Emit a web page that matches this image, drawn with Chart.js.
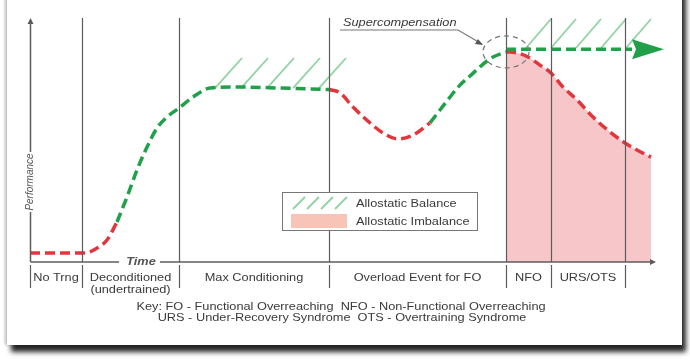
<!DOCTYPE html>
<html>
<head>
<meta charset="utf-8">
<script src="https://cdn.jsdelivr.net/npm/chart.js@4.4.1/dist/chart.umd.min.js"></script>
<style>
  html, body { margin: 0; padding: 0; background: #fff; overflow: hidden; }
  .card {
    position: absolute; left: 7px; top: -12px; width: 675px; height: 357px;
    background: #fff;
    box-shadow: 4px 7px 5px rgba(0,0,0,0.85), -2px 0 3px rgba(0,0,0,0.25);
  }
  #wrap { position: absolute; left: 0; top: 0; width: 690px; height: 362px; }
</style>
</head>
<body>
<div class="card"></div>
<div id="wrap"><canvas id="chart" width="690" height="362"></canvas></div>
<script>
// ── Phase boundaries on the time axis ──
const sectionBounds = [0, 10.4, 29.8, 59.8, 95.2, 104.2, 119];
const sectionLabels = ['No Trng', ['Deconditioned', '(undertrained)'], 'Max Conditioning',
                       'Overload Event for FO', 'NFO', 'URS/OTS'];

// ── Performance curve, split in coloured pieces ──
const detrainX  = [0, 11, 13.4, 15.4, 17.4];
const detrainY  = [3.7, 3.7, 5.7, 9.0, 16.4];
const buildX    = [17.4, 19.4, 21.4, 23.4, 25.4, 27.4, 29.8, 32.6, 36, 42, 50, 56, 59.8];
const buildY    = [16.4, 26.6, 37.7, 47.1, 54.9, 59.4, 63.1, 67.6, 71.3, 71.7, 71.3, 70.9, 70.7];
const overloadX = [59.8, 62, 64.6, 68, 70.6, 73.6, 76.6, 80];
const overloadY = [70.7, 69.3, 63.5, 57, 52.9, 50.4, 52, 57];
const recoverX  = [80, 82, 84, 86, 88, 90.4, 92.6, 95.2];
const recoverY  = [57, 62.3, 67.6, 72.5, 76.2, 80.7, 84, 86.1];
const superX    = [95.2, 120.4];
const superY    = [87.2, 87.2];
const declineX  = [95.2, 97.4, 99.6, 102, 104.2, 106.6, 109.4, 112.6, 116, 119, 121.4, 124.2];
const declineY  = [86.1, 85.7, 84, 80.7, 77.5, 71.7, 66.4, 59.4, 53.3, 48.8, 45.9, 43];

// ── Allostatic balance hatching (start x of each stroke, y band) ──
const hatchLowX  = [37, 42.2, 47.4, 52.6, 57.8];
const hatchLowY  = [71.3, 83.6];
const hatchHighX = [99.2, 104.2, 109.2, 114.2, 119.2];
const hatchHighY = [87.7, 99.6];

const GREEN = '#21a04a';
const RED   = '#e3363c';
const PINK  = '#f7c6c8';
const HATCH = '#8fd3a1';
const GREY  = '#5c5c5c';
const TEXT  = '#3a3a3a';
const FONT  = "'Liberation Sans', Arial, sans-serif";
const WIDEN = 1.16;   // the source lettering is a bit wider than Arial

const pts = (xs, ys) => xs.map((x, i) => ({ x, y: ys[i] }));

function seg(data, color, extra) {
  return Object.assign({
    data, borderColor: color, borderWidth: 3.5, borderDash: [10, 5],
    pointRadius: 0, fill: false, cubicInterpolationMode: 'monotone', clip: false
  }, extra || {});
}

// draw text stretched horizontally around its anchor
function wideText(ctx, str, x, y, align) {
  ctx.save();
  ctx.translate(x, y);
  ctx.scale(WIDEN, 1);
  ctx.textAlign = align || 'center';
  ctx.fillText(str, 0, 0);
  ctx.restore();
}

// ── Everything that is not a dataset: axes, phases, hatching, notes ──
const decor = {
  id: 'decor',
  beforeDatasetsDraw(chart) {
    const { ctx, scales: { x, y } } = chart;
    ctx.save();
    ctx.strokeStyle = HATCH;
    ctx.lineWidth = 1.8;
    const hatch = (starts, band, dx) => starts.forEach(s => {
      ctx.beginPath();
      ctx.moveTo(x.getPixelForValue(s), y.getPixelForValue(band[0]));
      ctx.lineTo(x.getPixelForValue(s + dx), y.getPixelForValue(band[1]));
      ctx.stroke();
    });
    hatch(hatchLowX, hatchLowY, 5.4);
    hatch(hatchHighX, hatchHighY, 5);
    ctx.restore();
  },
  afterDatasetsDraw(chart) {
    const { ctx, chartArea: a, scales: { x, y } } = chart;
    const y0 = y.getPixelForValue(0);
    ctx.save();

    // phase lines
    ctx.strokeStyle = GREY;
    ctx.lineWidth = 1.2;
    sectionBounds.forEach((b, i) => {
      const px = Math.round(x.getPixelForValue(b)) + 0.5;
      if (i > 0) { ctx.beginPath(); ctx.moveTo(px, a.top); ctx.lineTo(px, y0); ctx.stroke(); }
      ctx.beginPath(); ctx.moveTo(px, y0 + 3); ctx.lineTo(px, y0 + 26); ctx.stroke();
    });

    // axes with arrows
    const ax = Math.round(x.getPixelForValue(0)) + 0.5;
    ctx.lineWidth = 1.5;
    ctx.beginPath(); ctx.moveTo(ax, y0); ctx.lineTo(ax, a.top + 4); ctx.stroke();
    ctx.beginPath(); ctx.moveTo(ax, y0); ctx.lineTo(x.getPixelForValue(124.6), y0); ctx.stroke();
    ctx.fillStyle = GREY;
    ctx.beginPath(); ctx.moveTo(ax, a.top); ctx.lineTo(ax - 3, a.top + 6); ctx.lineTo(ax + 3, a.top + 6); ctx.fill();
    const tx = x.getPixelForValue(125.2);
    ctx.beginPath(); ctx.moveTo(tx, y0); ctx.lineTo(tx - 6, y0 - 3); ctx.lineTo(tx - 6, y0 + 3); ctx.fill();

    // axis titles on white
    ctx.font = `italic bold 11px ${FONT}`;
    ctx.textBaseline = 'middle';
    ctx.fillStyle = '#fff';
    ctx.fillRect(119, y0 - 6, 41, 12);
    ctx.fillStyle = '#555';
    wideText(ctx, 'Time', 141, y0);
    ctx.save();
    ctx.translate(ax, 182);
    ctx.rotate(-Math.PI / 2);
    ctx.font = `italic 10px ${FONT}`;
    ctx.fillStyle = '#fff';
    ctx.fillRect(-30, -6, 60, 12);
    ctx.fillStyle = '#555';
    ctx.textAlign = 'center';
    ctx.fillText('Performance', 0, 0);
    ctx.restore();

    // phase labels
    ctx.fillStyle = TEXT;
    ctx.font = `11px ${FONT}`;
    sectionLabels.forEach((lab, i) => {
      const end = i + 1 < sectionBounds.length ? sectionBounds[i + 1] : 124;
      const cx = (x.getPixelForValue(sectionBounds[i]) + x.getPixelForValue(end)) / 2;
      const lines = Array.isArray(lab) ? lab : [lab];
      lines.forEach((t, k) => wideText(ctx, t, cx, y0 + 16 + k * 12));
    });

    // key
    wideText(ctx, 'Key: FO - Functional Overreaching  NFO - Non-Functional Overreaching', 341, 307);
    wideText(ctx, 'URS - Under-Recovery Syndrome  OTS - Overtraining Syndrome', 342, 318);

    // green arrowhead at end of supercompensation line
    const sm = chart.getDatasetMeta(4).data;
    const end = sm[sm.length - 1];
    ctx.fillStyle = GREEN;
    ctx.beginPath();
    ctx.moveTo(end.x + 32, end.y);
    ctx.lineTo(end.x, end.y - 10);
    ctx.lineTo(end.x + 4, end.y);
    ctx.lineTo(end.x, end.y + 10);
    ctx.fill();

    // supercompensation circle and note
    const peak = chart.getDatasetMeta(3).data[recoverX.length - 1];
    ctx.strokeStyle = '#777';
    ctx.lineWidth = 1.2;
    ctx.setLineDash([5, 4]);
    ctx.beginPath();
    ctx.ellipse(peak.x, peak.y, 23, 16, 0, 0, Math.PI * 2);
    ctx.stroke();
    ctx.setLineDash([]);
    ctx.beginPath();
    ctx.moveTo(340, 30); ctx.lineTo(458, 30); ctx.lineTo(peak.x - 24, peak.y - 8);
    ctx.stroke();
    ctx.fillStyle = '#555';
    ctx.beginPath();
    ctx.moveTo(peak.x - 23, peak.y - 7);
    ctx.lineTo(peak.x - 31, peak.y - 8);
    ctx.lineTo(peak.x - 28, peak.y - 13);
    ctx.fill();
    ctx.font = `italic 11px ${FONT}`;
    ctx.fillStyle = TEXT;
    wideText(ctx, 'Supercompensation', 343, 23, 'left');

    // legend box
    ctx.fillStyle = '#fff';
    ctx.fillRect(282, 192, 195, 38);
    ctx.strokeStyle = '#777';
    ctx.lineWidth = 1;
    ctx.strokeRect(282.5, 192.5, 195, 38);
    ctx.strokeStyle = HATCH;
    ctx.lineWidth = 1.8;
    [293, 307, 321, 335].forEach(bx => {
      ctx.beginPath(); ctx.moveTo(bx, 209); ctx.lineTo(bx + 12, 197); ctx.stroke();
    });
    ctx.fillStyle = '#f8c4b8';
    ctx.fillRect(291, 214, 56, 14);
    ctx.fillStyle = TEXT;
    ctx.font = `11px ${FONT}`;
    wideText(ctx, 'Allostatic Balance', 356, 204, 'left');
    wideText(ctx, 'Allostatic Imbalance', 356, 222, 'left');
    ctx.restore();
  }
};

new Chart(document.getElementById('chart'), {
  type: 'line',
  data: {
    datasets: [
      seg(pts(detrainX, detrainY), RED),
      seg(pts(buildX, buildY), GREEN),
      seg(pts(overloadX, overloadY), RED),
      seg(pts(recoverX, recoverY), GREEN),
      seg(pts(superX, superY), GREEN),
      seg(pts(declineX, declineY), RED, { fill: 'origin', backgroundColor: PINK })
    ]
  },
  options: {
    responsive: false,
    animation: false,
    layout: { padding: { left: 30, right: 20, top: 18, bottom: 100 } },
    plugins: { legend: { display: false }, tooltip: { enabled: false } },
    scales: {
      x: { type: 'linear', min: 0, max: 128, display: false },
      y: { min: 0, max: 100, display: false }
    }
  },
  plugins: [decor]
});
</script>
</body>
</html>
